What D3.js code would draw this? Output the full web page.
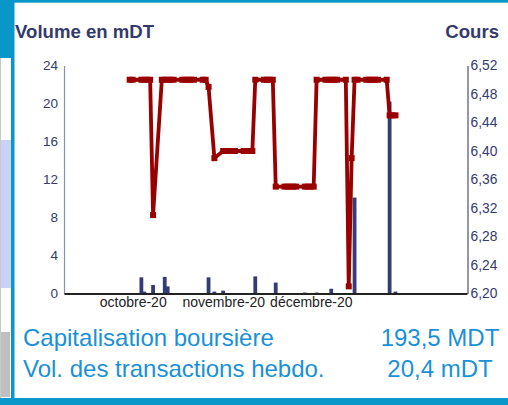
<!DOCTYPE html>
<html>
<head>
<meta charset="utf-8">
<script src="https://cdn.jsdelivr.net/npm/d3@7"></script>
<style>
  html, body { margin: 0; padding: 0; background: #fff; }
  svg { display: block; }
  text { font-family: "Liberation Sans", Arial, sans-serif; }
</style>
</head>
<body>
<svg id="chart" width="508" height="405"></svg>
<script>
// ---------- data ----------
const volumeDates = ["2020-10-05","2020-10-06","2020-10-09","2020-10-13","2020-10-14",
  "2020-10-28","2020-10-30","2020-11-02","2020-11-13","2020-11-20","2020-11-30",
  "2020-12-04","2020-12-09","2020-12-17","2020-12-29","2020-12-31"];
const volumeValues = [1.7, 0.2, 0.9, 1.75, 0.75, 1.7, 0.2, 0.3, 1.8, 1.15, 0.1,
  0.1, 0.5, 10.1, 20.2, 0.2];

const priceDates = [
  "2020-10-01","2020-10-02","2020-10-05","2020-10-06","2020-10-07","2020-10-08","2020-10-09",
  "2020-10-12","2020-10-13","2020-10-14","2020-10-15","2020-10-16",
  "2020-10-19","2020-10-20","2020-10-21","2020-10-22","2020-10-23",
  "2020-10-26","2020-10-27","2020-10-28","2020-10-30",
  "2020-11-02","2020-11-03","2020-11-04","2020-11-05","2020-11-06",
  "2020-11-09","2020-11-10","2020-11-11","2020-11-12","2020-11-13",
  "2020-11-16","2020-11-17","2020-11-18","2020-11-19","2020-11-20",
  "2020-11-23","2020-11-24","2020-11-25","2020-11-26","2020-11-27",
  "2020-11-30","2020-12-01","2020-12-02","2020-12-03","2020-12-04",
  "2020-12-07","2020-12-08","2020-12-09","2020-12-10","2020-12-11",
  "2020-12-14","2020-12-15","2020-12-16","2020-12-17","2020-12-18",
  "2020-12-21","2020-12-22","2020-12-23","2020-12-24","2020-12-25",
  "2020-12-28","2020-12-29","2020-12-30","2020-12-31"];
const priceValues = [
  6.50,6.50,6.50,6.50,6.50,6.50,6.31,
  6.50,6.50,6.50,6.50,6.50,
  6.50,6.50,6.50,6.50,6.50,
  6.50,6.50,6.49,6.39,
  6.40,6.40,6.40,6.40,6.40,
  6.40,6.40,6.40,6.40,6.50,
  6.50,6.50,6.50,6.50,6.35,
  6.35,6.35,6.35,6.35,6.35,
  6.35,6.35,6.35,6.35,6.50,
  6.50,6.50,6.50,6.50,6.50,
  6.50,6.21,6.39,6.50,6.50,
  6.50,6.50,6.50,6.50,6.50,
  6.50,6.45,6.45,6.45];

const leftTicks = [0, 4, 8, 12, 16, 20, 24];
const rightTicks = [6.20, 6.24, 6.28, 6.32, 6.36, 6.40, 6.44, 6.48, 6.52];
const monthTicks = ["2020-10-01", "2020-11-01", "2020-12-01"];

const leftTitle = "Volume en mDT";
const rightTitle = "Cours";
const infoLabels = ["Capitalisation boursière", "Vol. des transactions hebdo."];
const infoValues = ["193,5 MDT", "20,4 mDT"];

// ---------- setup ----------
const parse = d3.timeParse("%Y-%m-%d");
const mid = s => d3.timeHour.offset(parse(s), 12);
const frenchMonth = d3.timeFormatLocale({
  dateTime: "%A %e %B %Y à %X", date: "%d/%m/%Y", time: "%H:%M:%S",
  periods: ["AM", "PM"],
  days: ["dimanche","lundi","mardi","mercredi","jeudi","vendredi","samedi"],
  shortDays: ["dim.","lun.","mar.","mer.","jeu.","ven.","sam."],
  months: ["janvier","février","mars","avril","mai","juin","juillet","août","septembre","octobre","novembre","décembre"],
  shortMonths: ["janv.","févr.","mars","avr.","mai","juin","juil.","août","sept.","oct.","nov.","déc."]
}).format("%B-%y");
const numFmt = d3.formatLocale({decimal: ",", thousands: " ", grouping: [3], currency: ["", ""]}).format(".2f");

const svg = d3.select("#chart");
const W = 508, H = 405;
const blue = "#0996c8";
const navy = "#333a6c";

// page frame
svg.append("rect").attr("x", 0).attr("y", 0).attr("width", W).attr("height", H).attr("fill", "#fff");
svg.append("rect").attr("x", 0).attr("y", 0).attr("width", 14).attr("height", 58).attr("fill", blue);
svg.append("rect").attr("x", 0).attr("y", 58).attr("width", 1).attr("height", 340).attr("fill", "#c9c9c9");
svg.append("rect").attr("x", 1).attr("y", 140).attr("width", 10).attr("height", 148).attr("fill", "#c9d1f7");
svg.append("rect").attr("x", 1).attr("y", 332).attr("width", 9).attr("height", 65).attr("fill", "#bfbfbf");
svg.append("rect").attr("x", 11).attr("y", 0).attr("width", 3.5).attr("height", H).attr("fill", blue);
svg.append("rect").attr("x", 0).attr("y", 0).attr("width", W).attr("height", 2.7).attr("fill", blue);
svg.append("rect").attr("x", 0).attr("y", 398).attr("width", W).attr("height", 7).attr("fill", blue);

// scales
const x = d3.scaleTime()
  .domain([parse("2020-09-09"), parse("2021-01-25")])
  .range([64, 467]);
const yL = d3.scaleLinear().domain([0, 24]).range([293.5, 65.5]);
const yR = d3.scaleLinear().domain([6.20, 6.52]).range([293.5, 65.5]);
const dayW = x(parse("2020-10-02")) - x(parse("2020-10-01"));
const barW = dayW * 1.3;

// titles
svg.append("text").attr("x", 15).attr("y", 37.5).attr("font-size", 18.6).attr("font-weight", "bold")
  .attr("fill", navy).text(leftTitle);
svg.append("text").attr("x", 499).attr("y", 37.5).attr("font-size", 18.6).attr("font-weight", "bold")
  .attr("text-anchor", "end").attr("fill", navy).text(rightTitle);

// left axis
const gL = svg.append("g").attr("transform", "translate(64,0)")
  .call(d3.axisLeft(yL).tickValues(leftTicks).tickSize(0).tickPadding(6).tickFormat(d3.format("d")));
gL.select(".domain").attr("stroke", "#8b8fb8").attr("stroke-width", 1.2);
gL.selectAll("text").attr("font-size", 13.5).attr("fill", navy).attr("font-family", "Liberation Sans, Arial, sans-serif");

// right axis
const gR = svg.append("g").attr("transform", "translate(467.5,0)")
  .call(d3.axisRight(yR).tickValues(rightTicks).tickSize(0).tickPadding(3).tickFormat(numFmt));
gR.select(".domain").attr("stroke", "#4a4f7c").attr("stroke-width", 1.2);
gR.selectAll("text").attr("font-size", 13.8).attr("fill", navy).attr("font-family", "Liberation Sans, Arial, sans-serif");

// bars
svg.append("g").selectAll("rect").data(volumeDates.map((d, i) => ({d: mid(d), v: volumeValues[i]})))
  .join("rect")
  .attr("x", p => x(p.d) - barW / 2)
  .attr("y", p => yL(p.v))
  .attr("width", barW)
  .attr("height", p => yL(0) - yL(p.v))
  .attr("fill", "#333c74");

// x axis
const gX = svg.append("g").attr("transform", "translate(0,293.5)")
  .call(d3.axisBottom(x).tickValues(monthTicks.map(mid)).tickSize(0).tickPadding(4).tickFormat(frenchMonth));
gX.select(".domain").attr("stroke", "#222").attr("stroke-width", 1.8);
gX.selectAll("text").attr("font-size", 14).attr("fill", "#222").attr("dx", 3)
  .attr("font-family", "Liberation Sans, Arial, sans-serif");

// price line
const pts = priceDates.map((d, i) => ({d: mid(d), v: priceValues[i]}));
svg.append("path").datum(pts)
  .attr("fill", "none").attr("stroke", "#990000").attr("stroke-width", 3.8)
  .attr("stroke-linejoin", "miter")
  .attr("d", d3.line().x(p => x(p.d)).y(p => yR(p.v)));
svg.append("g").selectAll("rect").data(pts).join("rect")
  .attr("x", p => x(p.d) - 3).attr("y", p => yR(p.v) - 3)
  .attr("width", 6).attr("height", 6).attr("fill", "#990000");

// info block
const infoBlue = "#1a91d6";
infoLabels.forEach((t, i) => {
  svg.append("text").attr("x", 23).attr("y", 345.5 + i * 31.5).attr("font-size", 24)
    .attr("fill", infoBlue).text(t);
  svg.append("text").attr("x", 440).attr("y", 345.5 + i * 31.5).attr("font-size", 24)
    .attr("text-anchor", "middle").attr("fill", infoBlue).text(infoValues[i]);
});
</script>
</body>
</html>
